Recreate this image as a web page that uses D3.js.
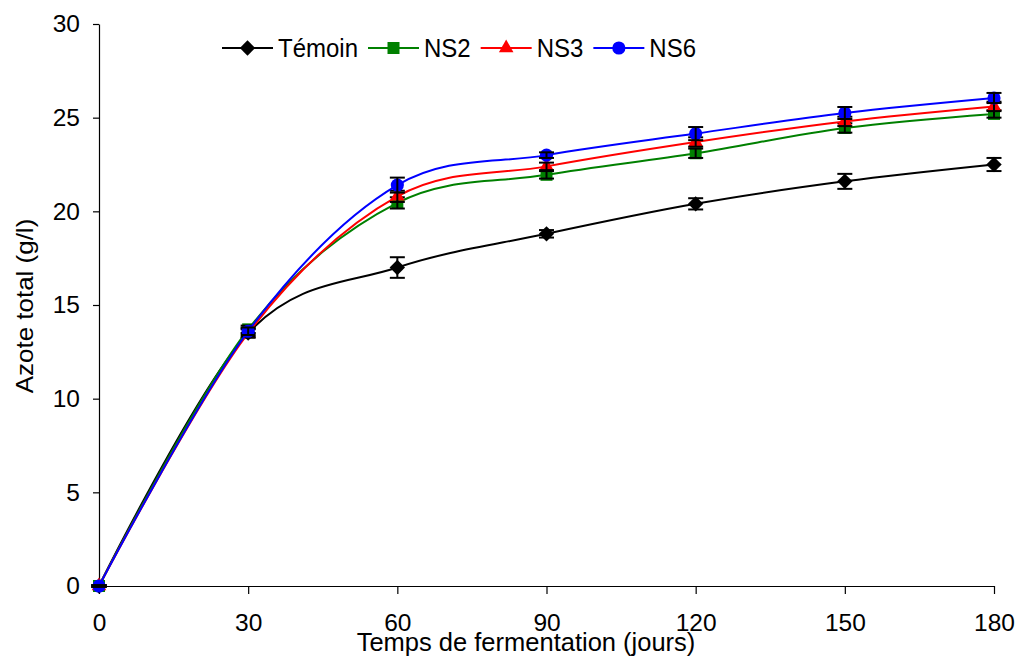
<!DOCTYPE html>
<html>
<head>
<meta charset="utf-8">
<script src="https://cdn.jsdelivr.net/npm/d3@7"></script>
<style>
  body { margin: 0; background: #fff; }
  text { font-family: "Liberation Sans", Arial, sans-serif; fill: #000; }
</style>
</head>
<body>
<svg id="chart"></svg>
<script>
// Data (azote total, g/l)
var days = [0, 30, 60, 90, 120, 150, 180];
var seriesNames = ["Témoin", "NS2", "NS3", "NS6"];
var temoin = [0, 13.5, 17.0, 18.8, 20.4, 21.6, 22.5];
var temoinErr = [0.05, 0.25, 0.55, 0.2, 0.3, 0.4, 0.35];
var ns2 = [0, 13.7, 20.45, 21.95, 23.1, 24.45, 25.2];
var ns2Err = [0.05, 0.2, 0.3, 0.2, 0.25, 0.25, 0.2];
var ns3 = [0, 13.5, 20.8, 22.4, 23.7, 24.8, 25.6];
var ns3Err = [0.05, 0.2, 0.3, 0.2, 0.25, 0.25, 0.25];
var ns6 = [0, 13.6, 21.4, 23.0, 24.15, 25.25, 26.05];
var ns6Err = [0.05, 0.2, 0.4, 0.15, 0.35, 0.32, 0.27];
var xTicks = [0, 30, 60, 90, 120, 150, 180];
var yTicks = [0, 5, 10, 15, 20, 25, 30];

var width = 1021, height = 657;
var colors = ["#000000", "#008000", "#ff0000", "#0000ff"];
var values = [temoin, ns2, ns3, ns6];
var errors = [temoinErr, ns2Err, ns3Err, ns6Err];

var svg = d3.select("#chart")
    .attr("width", width)
    .attr("height", height);

var x = d3.scaleLinear().domain([0, 180]).range([99, 994]);
var y = d3.scaleLinear().domain([0, 30]).range([586, 24]);

// Axes
var yAxis = svg.append("g")
    .attr("transform", "translate(" + x(0) + ",0)")
    .call(d3.axisLeft(y).tickValues(yTicks).tickSize(6).tickSizeOuter(0).tickPadding(13));
var xAxis = svg.append("g")
    .attr("transform", "translate(0," + y(0) + ")")
    .call(d3.axisBottom(x).tickValues(xTicks).tickSize(8).tickSizeOuter(0).tickPadding(20));
[xAxis, yAxis].forEach(function(a) {
    a.select(".domain").attr("stroke", "#000").attr("stroke-width", 1.2);
    a.selectAll(".tick line").attr("stroke", "#000").attr("stroke-width", 1.2);
    a.selectAll(".tick text")
        .attr("font-family", "Liberation Sans, Arial, sans-serif")
        .attr("font-size", 24.5)
        .attr("fill", "#000");
});

// Axis titles
svg.append("text")
    .attr("x", 526)
    .attr("y", 651)
    .attr("text-anchor", "middle")
    .attr("font-size", 25.5)
    .text("Temps de fermentation (jours)");
svg.append("text")
    .attr("transform", "translate(33,306) rotate(-90) scale(1.06,1)")
    .attr("text-anchor", "middle")
    .attr("font-size", 24.5)
    .text("Azote total (g/l)");

// Marker shapes: diamond, square, triangle, circle
var symbols = [d3.symbolSquare, d3.symbolSquare, d3.symbolTriangle, d3.symbolCircle];
var sizes = [118, 144, 92, 136];
var rotations = [45, 0, 0, 0];

var line = d3.line()
    .x(function(d) { return x(d[0]); })
    .y(function(d) { return y(d[1]); })
    .curve(d3.curveCatmullRom.alpha(0));

var plot = svg.append("g");
values.forEach(function(vals, s) {
    var pts = days.map(function(d, i) { return [d, vals[i], errors[s][i]]; });
    var g = plot.append("g");
    g.append("path")
        .datum(pts)
        .attr("d", line)
        .attr("fill", "none")
        .attr("stroke", colors[s])
        .attr("stroke-width", 2);

    // Markers
    g.selectAll(".mk")
        .data(pts)
        .enter()
        .append("path")
        .attr("class", "mk")
        .attr("d", d3.symbol(symbols[s], sizes[s])())
        .attr("transform", function(d) {
            return "translate(" + x(d[0]) + "," + y(d[1]) + ") rotate(" + rotations[s] + ")";
        })
        .attr("fill", colors[s]);

    // Error bars (black)
    var eb = g.selectAll(".eb")
        .data(pts)
        .enter()
        .append("g")
        .attr("stroke", "#000")
        .attr("stroke-width", 2);
    eb.append("line")
        .attr("x1", function(d) { return x(d[0]); })
        .attr("x2", function(d) { return x(d[0]); })
        .attr("y1", function(d) { return y(d[1] + d[2]); })
        .attr("y2", function(d) { return y(d[1] - d[2]); });
    [1, -1].forEach(function(sign) {
        eb.append("line")
            .attr("x1", function(d) { return x(d[0]) - 7.5; })
            .attr("x2", function(d) { return x(d[0]) + 7.5; })
            .attr("y1", function(d) { return y(d[1] + sign * d[2]); })
            .attr("y2", function(d) { return y(d[1] + sign * d[2]); });
    });
});

// Legend
var legend = svg.append("g").attr("transform", "translate(0,48)");
var lx = 222;
seriesNames.forEach(function(name, s) {
    var item = legend.append("g").attr("transform", "translate(" + lx + ",0)");
    item.append("line")
        .attr("x1", 0).attr("x2", 51)
        .attr("stroke", colors[s]).attr("stroke-width", 2);
    item.append("path")
        .attr("d", d3.symbol(symbols[s], sizes[s])())
        .attr("transform", "translate(25.5,0) rotate(" + rotations[s] + ")")
        .attr("fill", colors[s]);
    var t = item.append("text")
        .attr("transform", "translate(56,8.5) scale(1,1.08)")
        .attr("font-size", 24)
        .text(name);
    lx += 56 + t.node().getComputedTextLength() + 10;
});
</script>
</body>
</html>
